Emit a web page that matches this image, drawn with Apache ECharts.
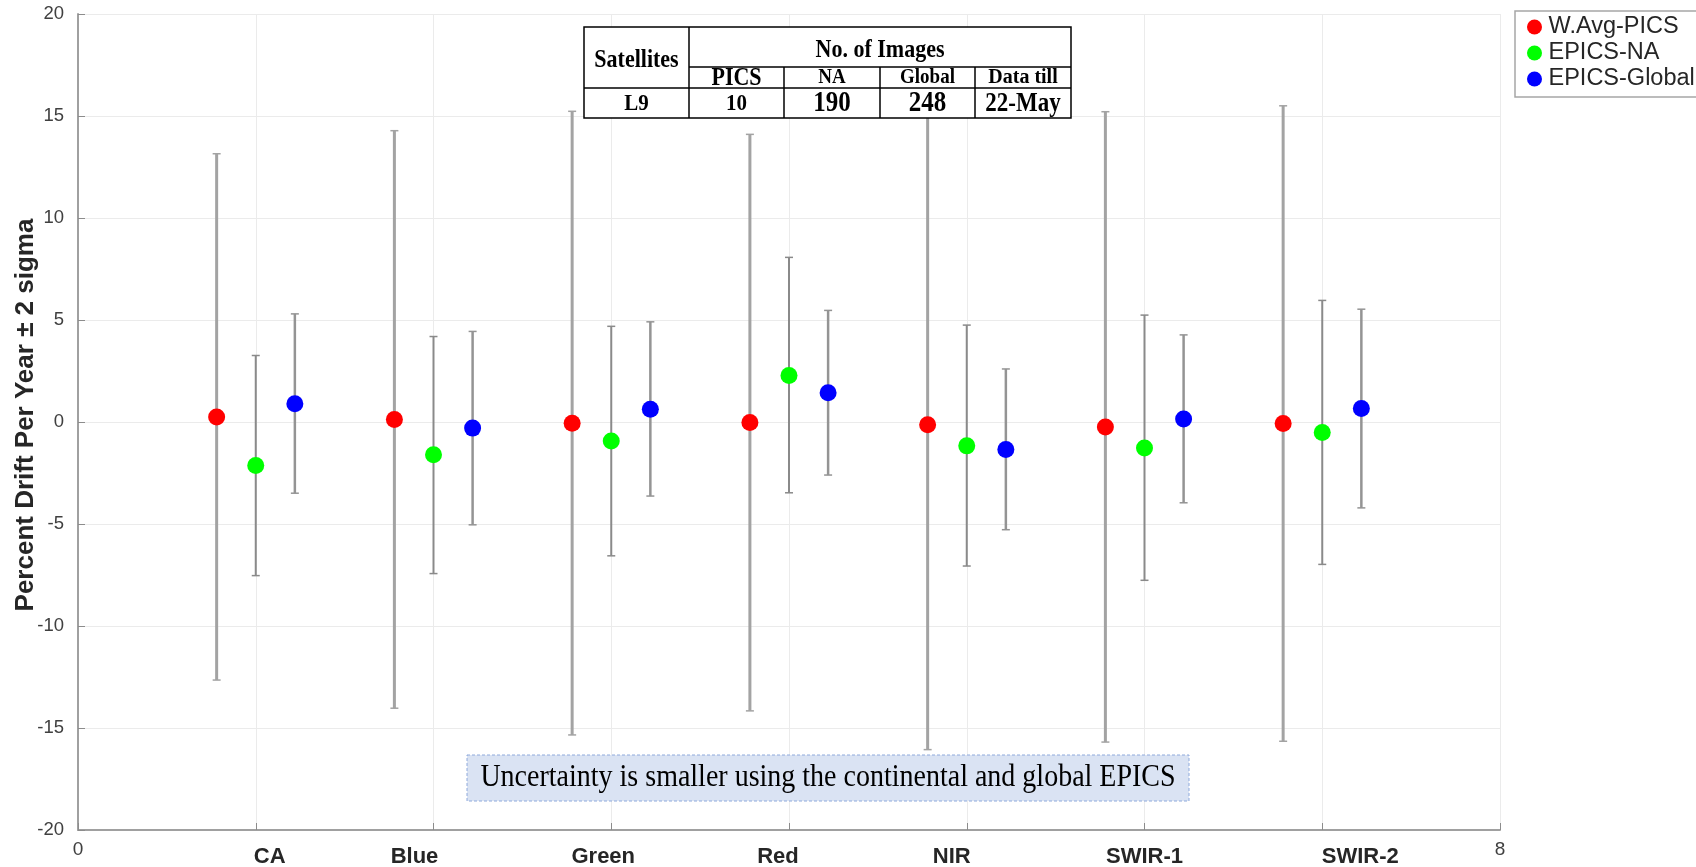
<!DOCTYPE html>
<html>
<head>
<meta charset="utf-8">
<script src="https://cdn.jsdelivr.net/npm/echarts@6/dist/echarts.min.js"></script>
<style>html,body{margin:0;padding:0;background:#fff;}#c{width:1696px;height:867px;}</style>
</head>
<body>
<div id="c"></div>
<script>
// ---- data ----
const bands = ['CA', 'Blue', 'Green', 'Red', 'NIR', 'SWIR-1', 'SWIR-2'];
const seriesNames = ['W.Avg-PICS', 'EPICS-NA', 'EPICS-Global'];
const picsMean = [0.25, 0.12, -0.06, -0.03, -0.14, -0.24, -0.07];
const picsLow  = [-12.65, -14.03, -15.34, -14.16, -16.06, -15.69, -15.65];
const picsHigh = [13.15, 14.28, 15.23, 14.10, 15.78, 15.21, 15.50];
const naMean = [-2.13, -1.61, -0.93, 2.28, -1.17, -1.27, -0.51];
const naLow  = [-7.53, -7.43, -6.56, -3.47, -7.06, -7.76, -6.98];
const naHigh = [3.26, 4.19, 4.69, 8.07, 4.75, 5.24, 5.96];
const globalMean = [0.90, -0.30, 0.63, 1.43, -1.35, 0.15, 0.66];
const globalLow  = [-3.49, -5.04, -3.63, -2.60, -5.28, -3.96, -4.21];
const globalHigh = [5.30, 4.44, 4.91, 5.47, 2.60, 4.27, 5.53];
const yTicks = [-20, -15, -10, -5, 0, 5, 10, 15, 20];
const tableHeader = ['Satellites', 'No. of Images', 'PICS', 'NA', 'Global', 'Data till'];
const tableRow = ['L9', '10', '190', '248', '22-May'];
const noteText = 'Uncertainty is smaller using the continental and global EPICS';

// ---- layout / style ----
const groupOffset = [-0.22, 0, 0.22];
const colors = ['#ff0000', '#00ff00', '#0000ff'];
const barStyles = [
  {stroke: '#a3a3a3', lineWidth: 3},
  {stroke: '#8a8a8a', lineWidth: 2},
  {stroke: '#949494', lineWidth: 2.5}
];
const bandLabelShift = [14, -19, -8, -11, -15, 0, 38];
const SANS = 'Liberation Sans, Arial, sans-serif';
const SERIF = 'Liberation Serif, Times New Roman, serif';

const means = [picsMean, naMean, globalMean];
const lows = [picsLow, naLow, globalLow];
const highs = [picsHigh, naHigh, globalHigh];

function errRender(k) {
  return function (params, api) {
    const x = api.value(0), lo = api.value(1), hi = api.value(2);
    const pt = api.coord([x, hi]), pb = api.coord([x, lo]);
    const cap = 4;
    const st = barStyles[k];
    return {
      type: 'group',
      children: [
        {type: 'line', shape: {x1: pt[0], y1: pt[1], x2: pb[0], y2: pb[1]}, style: {stroke: st.stroke, lineWidth: st.lineWidth}},
        {type: 'line', shape: {x1: pt[0] - cap, y1: pt[1], x2: pt[0] + cap, y2: pt[1]}, style: {stroke: st.stroke, lineWidth: 1.5}},
        {type: 'line', shape: {x1: pb[0] - cap, y1: pb[1], x2: pb[0] + cap, y2: pb[1]}, style: {stroke: st.stroke, lineWidth: 1.5}}
      ]
    };
  };
}

const series = [];
for (let k = 0; k < 3; k++) {
  series.push({
    name: seriesNames[k] + '_err',
    type: 'custom',
    renderItem: errRender(k),
    data: bands.map((b, i) => [i + 1 + groupOffset[k], lows[k][i], highs[k][i]]),
    encode: {x: 0, y: [1, 2]},
    z: 2,
    silent: true
  });
}
for (let k = 0; k < 3; k++) {
  series.push({
    name: seriesNames[k],
    type: 'scatter',
    symbol: 'circle',
    symbolSize: 17,
    itemStyle: {color: colors[k], opacity: 1},
    data: bands.map((b, i) => [i + 1 + groupOffset[k], means[k][i]]),
    z: 5
  });
}

const chart = echarts.init(document.getElementById('c'));
const option = {
  backgroundColor: '#ffffff',
  animation: false,
  grid: {left: 78, right: 196, top: 14, bottom: 37, containLabel: false, outerBoundsMode: 'none'},
  legend: {
    orient: 'vertical',
    left: 1515, top: 11,
    data: seriesNames,
    icon: 'circle',
    itemWidth: 18, itemHeight: 15, itemGap: 2,
    padding: [4, 30, 6, 12],
    borderColor: '#a6a6a6', borderWidth: 1.5,
    backgroundColor: '#fff',
    textStyle: {fontFamily: SANS, fontSize: 23.5, lineHeight: 22, color: '#262626'}
  },
  xAxis: {
    type: 'value', min: 0, max: 8, interval: 1,
    axisLine: {show: true, onZero: false, lineStyle: {color: '#a0a0a0', width: 2}},
    axisTick: {show: true, inside: true, length: 7, lineStyle: {color: '#8c8c8c', width: 1}},
    axisLabel: {
      margin: 10, fontFamily: SANS, fontSize: 19, color: '#404040',
      formatter: function (v) { return (v === 0 || v === 8) ? String(v) : ''; }
    },
    splitLine: {show: true, lineStyle: {color: '#ebebeb', width: 1}}
  },
  yAxis: {
    type: 'value', min: -20, max: 20, interval: 5,
    name: 'Percent Drift Per Year ± 2 sigma',
    nameLocation: 'middle', nameGap: 39, nameMoveOverlap: false,
    nameTextStyle: {fontFamily: SANS, fontSize: 26, fontWeight: 'bold', color: '#262626', padding: [0, 0, 0, 14]},
    axisLine: {show: true, onZero: false, lineStyle: {color: '#a0a0a0', width: 2}},
    axisTick: {show: true, inside: true, length: 7, lineStyle: {color: '#8c8c8c', width: 1}},
    axisLabel: {margin: 14, fontFamily: SANS, fontSize: 18.5, color: '#404040',
      formatter: function (v) { return yTicks.indexOf(v) >= 0 ? String(v) : ''; }},
    splitLine: {show: true, lineStyle: {color: '#ebebeb', width: 1}}
  },
  series: series
};
chart.setOption(option);

// ---- overlays: band labels, table, note ----
const g = [];
bands.forEach(function (b, i) {
  const p = chart.convertToPixel({gridIndex: 0}, [i + 1, -20]);
  g.push({type: 'text', x: p[0] + bandLabelShift[i], y: p[1] + 27, z: 50,
    style: {text: b, fontFamily: SANS, fontSize: 22, fontWeight: 'bold', fill: '#262626', align: 'center', verticalAlign: 'middle'}});
});

// table
const T = {l: 584, r: 1071, t: 27, m1: 67, m2: 88, b: 118, c: [689, 784, 880, 975]};
const lineSt = {stroke: '#000', lineWidth: 1.5};
g.push({type: 'rect', z: 60, shape: {x: T.l, y: T.t, width: T.r - T.l, height: T.b - T.t}, style: {fill: '#fff', stroke: '#000', lineWidth: 1.5}});
g.push({type: 'line', z: 61, shape: {x1: T.c[0], y1: T.m1, x2: T.r, y2: T.m1}, style: lineSt});
g.push({type: 'line', z: 61, shape: {x1: T.l, y1: T.m2, x2: T.r, y2: T.m2}, style: lineSt});
g.push({type: 'line', z: 61, shape: {x1: T.c[0], y1: T.t, x2: T.c[0], y2: T.b}, style: lineSt});
for (let j = 1; j < 4; j++) {
  g.push({type: 'line', z: 61, shape: {x1: T.c[j], y1: T.m1, x2: T.c[j], y2: T.b}, style: lineSt});
}
function tcell(txt, x, y, fs, sy) {
  g.push({type: 'text', z: 62, x: x, y: y, scaleY: sy,
    style: {text: txt, fontFamily: SERIF, fontSize: fs, fontWeight: 'bold', fill: '#000', align: 'center', verticalAlign: 'middle'}});
}
const colC = [(T.l + T.c[0]) / 2, (T.c[0] + T.c[1]) / 2, (T.c[1] + T.c[2]) / 2, (T.c[2] + T.c[3]) / 2, (T.c[3] + T.r) / 2];
tcell(tableHeader[0], colC[0], (T.t + T.m2) / 2 + 3, 22, 1.15);
tcell(tableHeader[1], (T.c[0] + T.r) / 2, (T.t + T.m1) / 2 + 3, 22, 1.15);
tcell(tableHeader[2], colC[1], (T.m1 + T.m2) / 2 + 1, 22, 1.1);
tcell(tableHeader[3], colC[2], (T.m1 + T.m2) / 2, 19, 1.05);
tcell(tableHeader[4], colC[3], (T.m1 + T.m2) / 2, 19, 1.05);
tcell(tableHeader[5], colC[4], (T.m1 + T.m2) / 2, 20, 1.05);
const rowFs = [21, 21, 25, 25, 23];
const rowSy = [1.1, 1.1, 1.15, 1.15, 1.15];
tableRow.forEach(function (v, j) { tcell(v, colC[j], (T.m2 + T.b) / 2 + 1, rowFs[j], rowSy[j]); });

// note box
g.push({type: 'rect', z: 60, shape: {x: 467, y: 755, width: 722, height: 46},
  style: {fill: '#dae3f3', stroke: '#8faadc', lineWidth: 1, lineDash: [3, 2]}});
g.push({type: 'text', z: 61, x: 828, y: 778, scaleY: 1.1,
  style: {text: noteText, fontFamily: SERIF, fontSize: 28, fill: '#000', align: 'center', verticalAlign: 'middle'}});

chart.setOption({graphic: {elements: g}});
</script>
</body>
</html>
